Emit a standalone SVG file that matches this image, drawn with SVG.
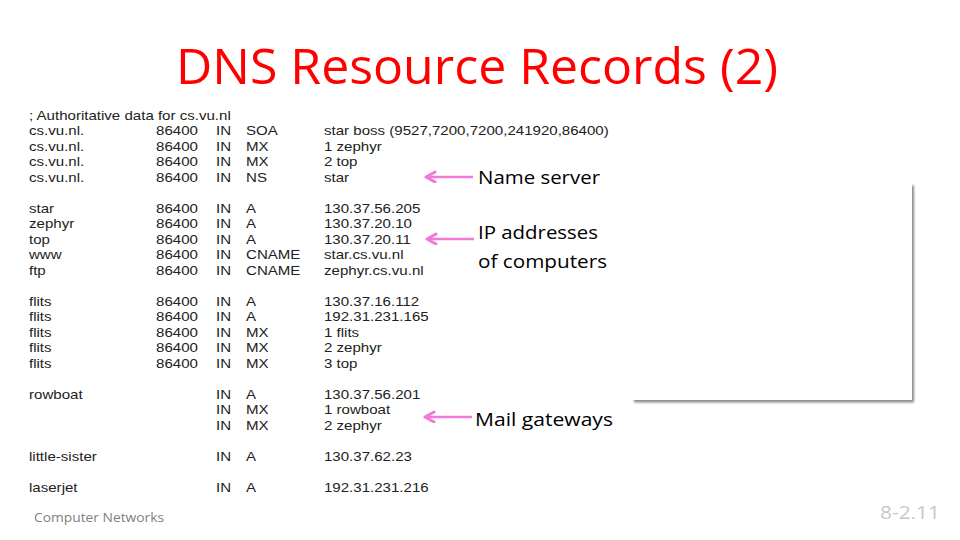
<svg xmlns="http://www.w3.org/2000/svg" width="960" height="540" viewBox="0 0 960 540">
<defs>
<style>
.t{font-family:"Liberation Sans",Arial,sans-serif;font-size:13px;fill:#222}
.lbl{font-family:"Open Sans","Noto Sans",sans-serif;font-size:19px;fill:#000}
.arr{stroke:#F07AD6;stroke-width:2.6;fill:none}
</style>
<marker id="ah" markerWidth="14" markerHeight="14" refX="10.5" refY="6" orient="auto" markerUnits="userSpaceOnUse">
<path d="M1.5,1 L10.5,6 L1.5,11" fill="none" stroke="#F07AD6" stroke-width="3" stroke-linecap="round" stroke-linejoin="round"/>
</marker>
<filter id="sh" x="-5%" y="-5%" width="112%" height="115%">
<feDropShadow dx="2" dy="2.5" stdDeviation="1.2" flood-color="#000" flood-opacity="0.45"/>
</filter>
</defs>
<rect width="960" height="540" fill="#fff"/>

<g id="title">
<text x="176" y="84" font-family="'Open Sans','Noto Sans',sans-serif" font-size="49" fill="#FF0000" textLength="602" lengthAdjust="spacingAndGlyphs">DNS Resource Records (2)</text>
</g>

<g id="panel">
<rect x="632" y="183" width="280" height="217" fill="#fff" filter="url(#sh)"/>
</g>

<g id="records" transform="translate(29,0) scale(1.16,1) translate(-29,0)">
<text class="t" x="29" y="119.7">; Authoritative data for cs.vu.nl</text>
<g id="r1"><text class="t" x="29" y="135.2">cs.vu.nl.</text><text class="t" x="138.5" y="135.2">86400</text><text class="t" x="190.2" y="135.2">IN</text><text class="t" x="216.1" y="135.2">SOA</text><text class="t" x="283.3" y="135.2">star boss (9527,7200,7200,241920,86400)</text></g>
<g id="r2"><text class="t" x="29" y="150.7">cs.vu.nl.</text><text class="t" x="138.5" y="150.7">86400</text><text class="t" x="190.2" y="150.7">IN</text><text class="t" x="216.1" y="150.7">MX</text><text class="t" x="283.3" y="150.7">1 zephyr</text></g>
<g id="r3"><text class="t" x="29" y="166.2">cs.vu.nl.</text><text class="t" x="138.5" y="166.2">86400</text><text class="t" x="190.2" y="166.2">IN</text><text class="t" x="216.1" y="166.2">MX</text><text class="t" x="283.3" y="166.2">2 top</text></g>
<g id="r4"><text class="t" x="29" y="181.7">cs.vu.nl.</text><text class="t" x="138.5" y="181.7">86400</text><text class="t" x="190.2" y="181.7">IN</text><text class="t" x="216.1" y="181.7">NS</text><text class="t" x="283.3" y="181.7">star</text></g>

<g id="r6"><text class="t" x="29" y="212.7">star</text><text class="t" x="138.5" y="212.7">86400</text><text class="t" x="190.2" y="212.7">IN</text><text class="t" x="216.1" y="212.7">A</text><text class="t" x="283.3" y="212.7">130.37.56.205</text></g>
<g id="r7"><text class="t" x="29" y="228.2">zephyr</text><text class="t" x="138.5" y="228.2">86400</text><text class="t" x="190.2" y="228.2">IN</text><text class="t" x="216.1" y="228.2">A</text><text class="t" x="283.3" y="228.2">130.37.20.10</text></g>
<g id="r8"><text class="t" x="29" y="243.7">top</text><text class="t" x="138.5" y="243.7">86400</text><text class="t" x="190.2" y="243.7">IN</text><text class="t" x="216.1" y="243.7">A</text><text class="t" x="283.3" y="243.7">130.37.20.11</text></g>
<g id="r9"><text class="t" x="29" y="259.2">www</text><text class="t" x="138.5" y="259.2">86400</text><text class="t" x="190.2" y="259.2">IN</text><text class="t" x="216.1" y="259.2">CNAME</text><text class="t" x="283.3" y="259.2">star.cs.vu.nl</text></g>
<g id="r10"><text class="t" x="29" y="274.7">ftp</text><text class="t" x="138.5" y="274.7">86400</text><text class="t" x="190.2" y="274.7">IN</text><text class="t" x="216.1" y="274.7">CNAME</text><text class="t" x="283.3" y="274.7">zephyr.cs.vu.nl</text></g>

<g id="r12"><text class="t" x="29" y="305.7">flits</text><text class="t" x="138.5" y="305.7">86400</text><text class="t" x="190.2" y="305.7">IN</text><text class="t" x="216.1" y="305.7">A</text><text class="t" x="283.3" y="305.7">130.37.16.112</text></g>
<g id="r13"><text class="t" x="29" y="321.2">flits</text><text class="t" x="138.5" y="321.2">86400</text><text class="t" x="190.2" y="321.2">IN</text><text class="t" x="216.1" y="321.2">A</text><text class="t" x="283.3" y="321.2">192.31.231.165</text></g>
<g id="r14"><text class="t" x="29" y="336.7">flits</text><text class="t" x="138.5" y="336.7">86400</text><text class="t" x="190.2" y="336.7">IN</text><text class="t" x="216.1" y="336.7">MX</text><text class="t" x="283.3" y="336.7">1 flits</text></g>
<g id="r15"><text class="t" x="29" y="352.2">flits</text><text class="t" x="138.5" y="352.2">86400</text><text class="t" x="190.2" y="352.2">IN</text><text class="t" x="216.1" y="352.2">MX</text><text class="t" x="283.3" y="352.2">2 zephyr</text></g>
<g id="r16"><text class="t" x="29" y="367.7">flits</text><text class="t" x="138.5" y="367.7">86400</text><text class="t" x="190.2" y="367.7">IN</text><text class="t" x="216.1" y="367.7">MX</text><text class="t" x="283.3" y="367.7">3 top</text></g>

<g id="r18"><text class="t" x="29" y="398.7">rowboat</text><text class="t" x="190.2" y="398.7">IN</text><text class="t" x="216.1" y="398.7">A</text><text class="t" x="283.3" y="398.7">130.37.56.201</text></g>
<g id="r19"><text class="t" x="190.2" y="414.2">IN</text><text class="t" x="216.1" y="414.2">MX</text><text class="t" x="283.3" y="414.2">1 rowboat</text></g>
<g id="r20"><text class="t" x="190.2" y="429.7">IN</text><text class="t" x="216.1" y="429.7">MX</text><text class="t" x="283.3" y="429.7">2 zephyr</text></g>

<g id="r22"><text class="t" x="29" y="460.7">little-sister</text><text class="t" x="190.2" y="460.7">IN</text><text class="t" x="216.1" y="460.7">A</text><text class="t" x="283.3" y="460.7">130.37.62.23</text></g>
<g id="r24"><text class="t" x="29" y="491.7">laserjet</text><text class="t" x="190.2" y="491.7">IN</text><text class="t" x="216.1" y="491.7">A</text><text class="t" x="283.3" y="491.7">192.31.231.216</text></g>
</g>

<g id="connectors">
<line class="arr" x1="473" y1="177" x2="426" y2="177" marker-end="url(#ah)"/>
<line class="arr" x1="474" y1="239" x2="427" y2="239" marker-end="url(#ah)"/>
<line class="arr" x1="472" y1="417" x2="425" y2="417" marker-end="url(#ah)"/>
</g>

<g id="label-ns"><text class="lbl" x="478" y="183.5" textLength="122" lengthAdjust="spacingAndGlyphs">Name server</text></g>
<g id="label-ip">
<text class="lbl" x="478" y="238.5" textLength="120" lengthAdjust="spacingAndGlyphs">IP addresses</text>
<text class="lbl" x="478" y="267.5" textLength="129" lengthAdjust="spacingAndGlyphs">of computers</text>
</g>
<g id="label-mail"><text class="lbl" x="475" y="426" textLength="138" lengthAdjust="spacingAndGlyphs">Mail gateways</text></g>

<g id="footer">
<text x="34" y="521.5" font-family="'Open Sans','Noto Sans',sans-serif" font-size="13" fill="#7f7f7f" textLength="130" lengthAdjust="spacingAndGlyphs">Computer Networks</text>
<text x="880" y="518.5" font-family="'Open Sans','Noto Sans',sans-serif" font-size="18.5" fill="#c8c8c8" textLength="60" lengthAdjust="spacingAndGlyphs">8-2.11</text>
</g>
</svg>
